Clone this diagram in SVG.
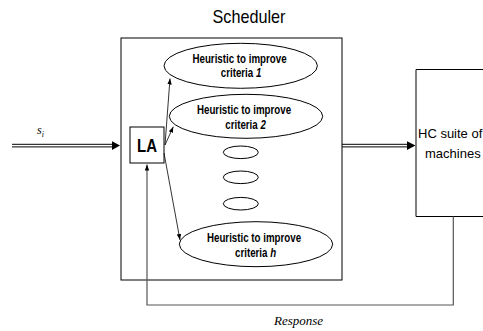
<svg xmlns="http://www.w3.org/2000/svg" width="483" height="331" viewBox="0 0 483 331">
<style>
.box{fill:#fff;stroke:#000;stroke-width:1}
.ell{fill:#fff;stroke:#000;stroke-width:1}
.lbl{font-family:"Liberation Sans",Arial,sans-serif;font-weight:bold;font-size:12.5px;text-anchor:middle;fill:#000}
.hc{font-family:"Liberation Sans",Arial,sans-serif;font-size:13px;fill:#000}
.thin{fill:none;stroke:#000;stroke-width:0.8}
.dbl{fill:none;stroke:#000;stroke-width:1}
.fb{fill:none;stroke:#555;stroke-width:1.2}
</style>
<defs>
<marker id="ah" markerWidth="6" markerHeight="6" refX="6" refY="3" orient="auto" markerUnits="userSpaceOnUse"><path d="M0,0.8 L6,3 L0,5.2 Z" fill="#000"/></marker>
</defs>
<text x="249" y="23" font-family="Liberation Sans,Arial,sans-serif" font-size="19" text-anchor="middle" textLength="73" lengthAdjust="spacingAndGlyphs">Scheduler</text>
<g id="scheduler"><rect class="box" x="121" y="38" width="221" height="242"/></g>
<g id="hc">
<path d="M483,69.5 H416 V216.5 H483 Z" fill="#fff" stroke="none"/>
<path d="M483,69.5 H416 V216.5 H483" fill="none" stroke="#000" stroke-width="1"/>
<text class="hc" x="418" y="138">HC suite of</text>
<text class="hc" x="425" y="158">machines</text>
</g>
<g id="h1">
<ellipse class="ell" cx="240.7" cy="65.8" rx="76.7" ry="22.5"/>
<text class="lbl" transform="translate(239.5,0) scale(0.78,1)"><tspan x="0" y="63">Heuristic to improve</tspan><tspan x="2" y="77.5">criteria <tspan font-style="italic">1</tspan></tspan></text>
</g>
<g id="h2">
<ellipse class="ell" cx="246" cy="116.3" rx="76.7" ry="22"/>
<text class="lbl" transform="translate(244,0) scale(0.78,1)"><tspan x="0" y="114">Heuristic to improve</tspan><tspan x="2" y="129">criteria <tspan font-style="italic">2</tspan></tspan></text>
</g>
<g id="dots">
<ellipse class="ell" cx="240.8" cy="152.3" rx="17.5" ry="6.3"/>
<ellipse class="ell" cx="240.8" cy="177.3" rx="17.5" ry="6.3"/>
<ellipse class="ell" cx="240.8" cy="203.7" rx="17.5" ry="6.3"/>
</g>
<g id="hh">
<ellipse class="ell" cx="256" cy="244.2" rx="76.7" ry="22.5"/>
<text class="lbl" transform="translate(254,0) scale(0.78,1)"><tspan x="0" y="241.7">Heuristic to improve</tspan><tspan x="2" y="256.7">criteria <tspan font-style="italic">h</tspan></tspan></text>
</g>
<g id="la">
<rect class="box" x="130" y="127" width="34" height="36"/>
<text x="147" y="152" font-family="Liberation Sans,Arial,sans-serif" font-weight="bold" font-size="18" text-anchor="middle" textLength="20" lengthAdjust="spacingAndGlyphs">LA</text>
</g>
<g id="connectors">
<path class="dbl" d="M12,144.3 H113 M12,146.9 H113"/>
<path d="M112,141.3 L120,145.6 L112,149.9 Z" fill="#000"/>
<path class="dbl" d="M342,144.3 H408 M342,146.9 H408"/>
<path d="M407,141.3 L415.5,145.6 L407,149.9 Z" fill="#000"/>
<path class="thin" d="M165,145 L170,78.5" marker-end="url(#ah)"/>
<path class="thin" d="M165,145 L173.3,126.7" marker-end="url(#ah)"/>
<path class="thin" d="M164,153 L180,240" marker-end="url(#ah)"/>
<path class="fb" d="M453.3,216.5 V305 H147 V164.5" marker-end="url(#ah)"/>
</g>
<text x="37" y="134" font-family="Liberation Serif,Times New Roman,serif" font-style="italic" font-size="12">s<tspan font-size="8" dy="2.5">i</tspan></text>
<text x="274" y="325" font-family="Liberation Serif,Times New Roman,serif" font-style="italic" font-size="13">Response</text>
</svg>
